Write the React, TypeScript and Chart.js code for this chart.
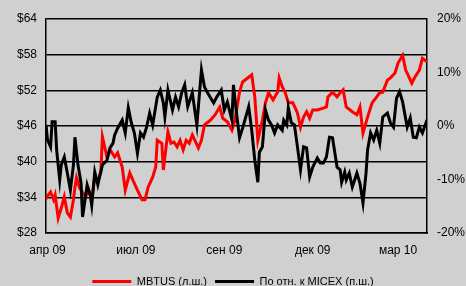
import React, { useEffect, useRef } from "react";
import { Chart, registerables } from "chart.js";

Chart.register(...registerables);

// Trading-day index (0 = start of April 2009) and values
const mbtusDay = [0,1,3,5,6,8,10,12,14,16,18,19,20,22,26,28,30,32,34,36,37,40,42,45,47,50,52,55,57,60,63,65,67,70,72,73,76,77,80,82,84,86,88,90,92,94,96,100,102,104,108,111,114,116,119,122,124,127,129,133,135,137,139,142,144,146,149,152,153,155,157,159,162,165,167,169,171,173,175,178,182,184,185,188,191,193,195,197,201,204,206,208,211,214,217,219,221,224,226,229,231,234,236,237,240,242,245,247,250];
const mbtusPrice = [33.7,34.2,34.9,33.6,34.4,30.5,32.2,34.1,31.4,30.7,33.6,35.7,37.3,35.6,34.1,35.2,33.6,37.3,36.6,38.3,44.2,40.8,42.0,40.8,41.5,39.1,35.2,38.1,36.9,35.2,33.6,33.6,35.7,37.4,39.1,43.6,43.1,38.6,45.0,43.1,43.3,42.5,43.6,42.0,43.6,43.1,44.5,42.3,43.6,46.2,47.0,47.9,49.2,47.3,46.7,45.3,47.0,51.7,53.4,54.2,54.6,50.9,43.6,47.0,49.9,51.6,50.4,51.7,54.1,52.6,51.6,49.9,49.9,48.2,45.8,47.5,48.4,47.3,48.7,48.7,49.0,49.2,50.9,51.7,50.9,51.6,52.1,49.2,48.4,47.9,49.2,44.8,47.5,49.9,50.9,51.6,51.7,53.7,54.1,54.9,56.6,57.9,55.4,54.9,53.2,54.2,55.4,57.4,56.8];

const micexDay = [0,1,3,4,6,7,9,10,12,14,16,18,19,21,23,24,27,29,30,32,34,35,37,40,42,44,45,47,50,52,54,56,58,60,62,64,66,68,70,73,75,77,78,80,83,85,87,89,91,93,96,99,102,104,106,110,112,115,117,119,122,123,125,127,129,133,135,137,139,140,142,144,146,148,150,152,155,156,158,159,161,163,165,167,169,171,173,175,178,180,182,184,186,188,191,193,194,196,197,199,201,204,206,208,210,211,213,215,217,219,221,224,226,228,230,232,234,237,239,241,243,245,247,250];
const micexRel = [0.2,-2.6,-3.9,0.8,0.8,-4.5,-10.1,-7.3,-5.8,-8.8,-12.0,-7.3,-2.1,-7.3,-10.7,-17.0,-11.0,-12.9,-14.8,-8.6,-11.0,-9.7,-7.3,-6.4,-4.1,-3.2,-1.7,-0.4,1.1,-1.3,3.4,0.6,-1.3,-5.1,-1.3,-2.1,-0.2,2.4,0.2,5.4,6.7,4.3,1.7,6.7,3.0,5.4,3.6,6.2,7.7,3.6,6.2,0.2,10.5,7.3,6.2,4.3,5.4,6.7,3.0,4.5,1.1,7.7,2.4,-2.2,-0.4,3.6,-0.8,-6.4,-10.5,-4.9,-3.9,3.0,1.1,0.2,-1.3,0.2,-0.8,1.1,0.2,3.4,0.6,0.2,-3.9,-8.2,-3.9,-4.1,-9.5,-7.7,-6.0,-6.9,-6.9,-5.8,-2.1,-2.2,-7.7,-8.2,-10.5,-8.6,-10.1,-8.8,-11.4,-8.8,-10.7,-14.4,-8.8,-4.5,-1.3,-2.6,-0.8,-3.2,1.7,2.4,0.6,-0.2,5.2,6.4,4.5,-0.2,1.5,-2.1,-2.2,-0.2,-1.3,1.1];

const xTickDays = [1, 59, 117, 175, 231];
const xTickLabels = ["апр 09", "июл 09", "сен 09", "дек 09", "мар 10"];

const seriesNames = ["MBTUS (л.ш.)", "По отн. к MICEX (п.ш.)"];

const FONT = "'Liberation Sans', Arial, sans-serif";
const BG = "#d0d0d0";

export default function App() {
  const ref = useRef<HTMLCanvasElement | null>(null);

  useEffect(() => {
    if (!ref.current) return;
    const chart = new Chart(ref.current, {
      type: "line",
      data: {
        datasets: [
          {
            label: seriesNames[0],
            data: mbtusDay.map((d, i) => ({ x: d, y: mbtusPrice[i] })),
            borderColor: "#ff0000",
            backgroundColor: "#ff0000",
            borderWidth: 3,
            pointRadius: 0,
            tension: 0,
            yAxisID: "y",
            order: 1,
          },
          {
            label: seriesNames[1],
            data: micexDay.map((d, i) => ({ x: d, y: micexRel[i] })),
            borderColor: "#000000",
            backgroundColor: "#000000",
            borderWidth: 3,
            pointRadius: 0,
            tension: 0,
            yAxisID: "y1",
            order: 0,
          },
        ],
      },
      options: {
        responsive: false,
        animation: false,
        layout: { padding: { top: 19, left: 0, right: 0, bottom: 0 } },
        plugins: {
          tooltip: { enabled: false },
          legend: {
            position: "bottom",
            reverse: true,
            labels: {
              usePointStyle: true,
              pointStyle: "line",
              pointStyleWidth: 39,
              padding: 8,
              color: "#000",
              font: { family: FONT, size: 11 },
            },
          },
        },
        scales: {
          x: {
            type: "linear",
            min: 0,
            max: 250,
            afterBuildTicks: (s: any) => {
              s.ticks = xTickDays.map((v) => ({ value: v }));
            },
            afterFit: (s: any) => {
              s.height = 35;
            },
            grid: { display: false, drawTicks: false },
            border: { display: true, color: "#000", width: 1.5 },
            ticks: {
              autoSkip: false,
              maxRotation: 0,
              padding: 10,
              color: "#000",
              font: { family: FONT, size: 12 },
              callback: (_v: any, i: number) => xTickLabels[i],
            },
          },
          y: {
            position: "left",
            min: 28,
            max: 64,
            afterFit: (s: any) => {
              s.width = 46;
            },
            grid: { color: "#000", lineWidth: 1.5, drawTicks: false },
            border: { display: true, color: "#000", width: 1.5 },
            ticks: {
              stepSize: 6,
              padding: 9,
              color: "#000",
              font: { family: FONT, size: 12 },
              callback: (v: any) => "$" + v,
            },
          },
          y1: {
            position: "right",
            min: -20,
            max: 20,
            afterFit: (s: any) => {
              s.width = 39;
            },
            grid: { display: false, drawTicks: false },
            border: { display: true, color: "#000", width: 1.5 },
            ticks: {
              stepSize: 10,
              padding: 10,
              color: "#000",
              font: { family: FONT, size: 12 },
              callback: (v: any) => v + "%",
            },
          },
        },
      },
    });
    return () => chart.destroy();
  }, []);

  return (
    <div
      style={{
        position: "fixed",
        left: 0,
        top: 0,
        width: 466,
        height: 286,
        overflow: "hidden",
        background: BG,
      }}
    >
      <canvas ref={ref} width={466} height={297} style={{ width: 466, height: 297, display: "block" }} />
    </div>
  );
}
